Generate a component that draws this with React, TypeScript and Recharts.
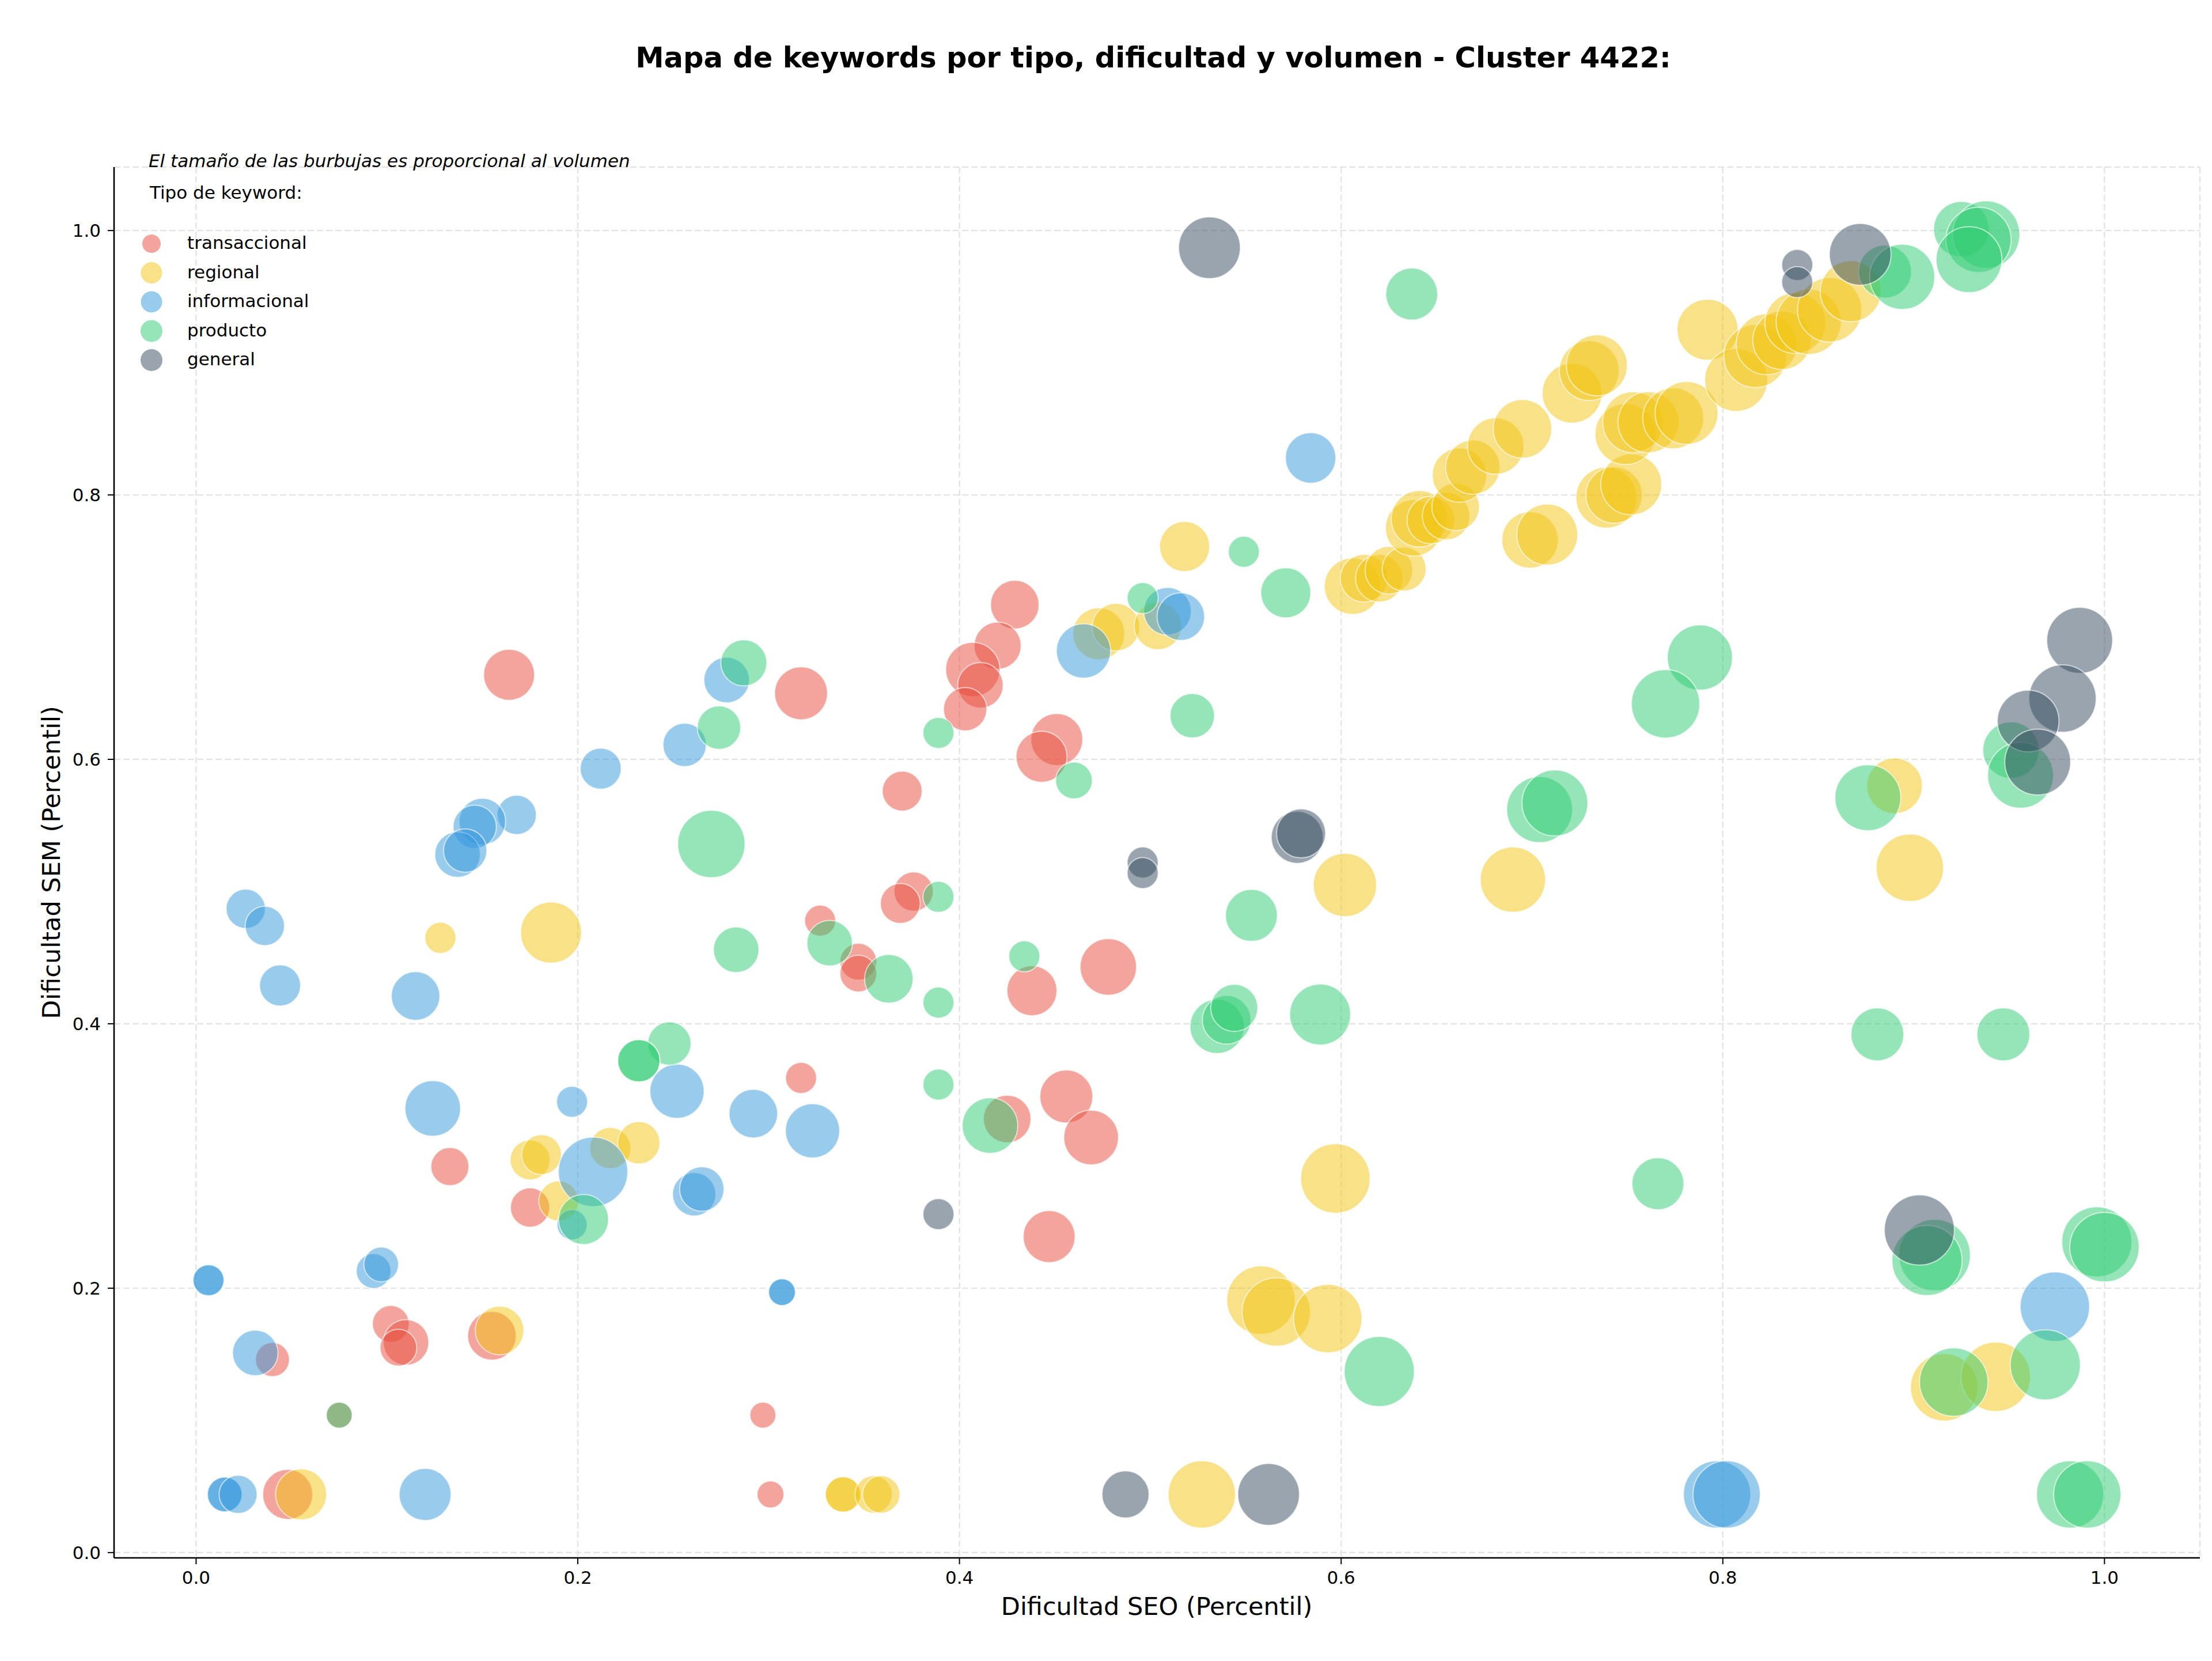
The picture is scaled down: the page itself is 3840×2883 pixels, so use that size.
import React from 'react';
import { ScatterChart, Scatter, XAxis, YAxis, ZAxis, CartesianGrid } from 'recharts';

// Keyword rows: [SEO difficulty percentile, SEM difficulty percentile, search volume index]
const transaccional: number[][] = [
  [0.164, 0.664, 54], [0.317, 0.650, 58], [0.429, 0.717, 49], [0.420, 0.686, 46],
  [0.407, 0.668, 61], [0.411, 0.656, 43], [0.403, 0.638, 39], [0.451, 0.615, 56],
  [0.443, 0.602, 54], [0.370, 0.576, 33], [0.376, 0.500, 32], [0.369, 0.491, 33],
  [0.327, 0.478, 20], [0.347, 0.447, 28], [0.347, 0.438, 28], [0.438, 0.425, 52],
  [0.478, 0.443, 66], [0.317, 0.359, 20], [0.133, 0.292, 30], [0.456, 0.345, 58],
  [0.469, 0.314, 62], [0.425, 0.328, 47], [0.175, 0.261, 32], [0.447, 0.239, 56],
  [0.102, 0.173, 28], [0.110, 0.159, 43], [0.106, 0.155, 28], [0.040, 0.146, 24],
  [0.155, 0.164, 49], [0.075, 0.104, 14], [0.297, 0.104, 14], [0.301, 0.044, 15],
  [0.048, 0.044, 52],
];

const regional: number[][] = [
  [0.128, 0.465, 20], [0.186, 0.469, 77], [0.175, 0.297, 33], [0.181, 0.301, 33],
  [0.217, 0.306, 35], [0.232, 0.310, 37], [0.190, 0.266, 33], [0.159, 0.168, 49],
  [0.055, 0.044, 54], [0.339, 0.044, 26], [0.339, 0.044, 26], [0.355, 0.044, 29],
  [0.359, 0.044, 29], [0.527, 0.044, 94], [0.597, 0.283, 100], [0.558, 0.191, 97],
  [0.566, 0.182, 97], [0.593, 0.177, 97], [0.602, 0.505, 83], [0.690, 0.509, 88],
  [0.898, 0.518, 94], [0.890, 0.580, 64], [0.916, 0.125, 94], [0.943, 0.133, 100],
  [0.518, 0.761, 52], [0.473, 0.695, 56], [0.482, 0.700, 47], [0.504, 0.701, 47],
  [0.606, 0.731, 66], [0.612, 0.737, 47], [0.620, 0.737, 47], [0.625, 0.743, 47],
  [0.633, 0.744, 40], [0.638, 0.775, 66], [0.641, 0.782, 66], [0.647, 0.781, 47],
  [0.655, 0.784, 47], [0.660, 0.791, 47], [0.662, 0.815, 61], [0.669, 0.821, 61],
  [0.681, 0.837, 66], [0.695, 0.850, 71], [0.699, 0.766, 66], [0.708, 0.770, 77],
  [0.721, 0.877, 74], [0.730, 0.894, 74], [0.734, 0.898, 77], [0.739, 0.798, 77],
  [0.743, 0.800, 66], [0.752, 0.808, 77], [0.749, 0.846, 77], [0.753, 0.855, 77],
  [0.761, 0.855, 77], [0.774, 0.858, 77], [0.781, 0.862, 82], [0.792, 0.925, 77],
  [0.807, 0.887, 82], [0.817, 0.905, 82], [0.823, 0.914, 77], [0.831, 0.917, 71],
  [0.838, 0.930, 77], [0.845, 0.931, 88], [0.856, 0.940, 86], [0.867, 0.954, 77],
];

const informacional: number[][] = [
  [0.278, 0.660, 43], [0.256, 0.611, 39], [0.212, 0.593, 35], [0.168, 0.558, 32],
  [0.150, 0.553, 45], [0.146, 0.549, 39], [0.137, 0.528, 43], [0.141, 0.531, 39],
  [0.026, 0.487, 32], [0.036, 0.474, 32], [0.044, 0.429, 35], [0.115, 0.421, 49],
  [0.252, 0.349, 61], [0.197, 0.341, 20], [0.124, 0.336, 64], [0.292, 0.332, 49],
  [0.323, 0.319, 61], [0.208, 0.288, 100], [0.197, 0.248, 19], [0.261, 0.271, 39],
  [0.265, 0.275, 41], [0.0065, 0.206, 20], [0.0065, 0.206, 20], [0.093, 0.213, 25],
  [0.097, 0.218, 25], [0.031, 0.151, 43], [0.307, 0.197, 15], [0.307, 0.197, 15],
  [0.015, 0.044, 25], [0.015, 0.044, 25], [0.022, 0.044, 30], [0.120, 0.044, 56],
  [0.465, 0.682, 61], [0.509, 0.712, 47], [0.516, 0.708, 47], [0.584, 0.828, 53],
  [0.974, 0.186, 100], [0.797, 0.044, 94], [0.802, 0.044, 94],
];

const producto: number[][] = [
  [0.287, 0.673, 44], [0.274, 0.624, 39], [0.270, 0.536, 94], [0.283, 0.456, 43],
  [0.248, 0.385, 39], [0.232, 0.372, 37], [0.232, 0.372, 37], [0.203, 0.252, 52],
  [0.075, 0.104, 14], [0.637, 0.952, 56], [0.549, 0.757, 20], [0.571, 0.726, 52],
  [0.496, 0.722, 20], [0.389, 0.620, 20], [0.460, 0.584, 28], [0.522, 0.633, 41],
  [0.389, 0.496, 20], [0.332, 0.461, 43], [0.363, 0.434, 49], [0.389, 0.416, 20],
  [0.434, 0.451, 20], [0.389, 0.354, 20], [0.416, 0.323, 64], [0.553, 0.482, 56],
  [0.535, 0.398, 61], [0.540, 0.403, 49], [0.544, 0.412, 46], [0.589, 0.407, 77],
  [0.620, 0.137, 102], [0.885, 0.969, 58], [0.894, 0.965, 88], [0.925, 1.001, 64],
  [0.938, 0.997, 94], [0.934, 0.993, 88], [0.929, 0.978, 90], [0.951, 0.607, 66],
  [0.956, 0.588, 90], [0.788, 0.677, 88], [0.770, 0.642, 97], [0.704, 0.562, 90],
  [0.712, 0.567, 90], [0.876, 0.571, 90], [0.881, 0.392, 58], [0.947, 0.392, 58],
  [0.766, 0.279, 56], [0.911, 0.225, 106], [0.907, 0.221, 102], [0.996, 0.235, 102],
  [1.000, 0.231, 100], [0.921, 0.129, 97], [0.969, 0.142, 102], [0.982, 0.044, 94],
  [0.991, 0.044, 94],
];

const general: number[][] = [
  [0.531, 0.987, 79], [0.577, 0.541, 56], [0.579, 0.544, 50], [0.496, 0.522, 20],
  [0.496, 0.514, 20], [0.389, 0.256, 20], [0.487, 0.044, 46], [0.562, 0.044, 79],
  [0.839, 0.974, 20], [0.839, 0.961, 20], [0.872, 0.982, 79], [0.987, 0.690, 90],
  [0.978, 0.646, 94], [0.960, 0.629, 79], [0.965, 0.598, 90], [0.903, 0.244, 102],
];

const tipos = ['transaccional', 'regional', 'informacional', 'producto', 'general'];
const colores = ['#E74C3C', '#F1C40F', '#3498DB', '#2ECC71', '#34495E'];
const series = [transaccional, regional, informacional, producto, general];

const axisTicks = [0, 0.2, 0.4, 0.6, 0.8, 1.0];

const toRows = (rows: number[][]) => rows.map(([seo, sem, vol]) => ({ seo, sem, vol }));

const FONT = 'DejaVu Sans';
const W = 3840;
const H = 2883;
// legend marker radii, one per keyword type
const legendR = [16, 18.5, 18.5, 19, 19];

export default function App() {
  const tickStyle = { fill: '#000', fontSize: 31, fontFamily: FONT };
  return (
    <div style={{ position: 'absolute', left: 0, top: 0, width: W, height: H, background: '#fff' }}>
      <ScatterChart
        width={W}
        height={H}
        margin={{ top: 290, right: 21, bottom: 59, left: 48 }}
      >
        <CartesianGrid stroke="#e4e4e4" strokeWidth={2.4} strokeDasharray="11 5" />
        <XAxis
          type="number"
          dataKey="seo"
          domain={[-0.043, 1.05]}
          ticks={axisTicks}
          interval={0}
          allowDataOverflow
          tickFormatter={(v: number) => v.toFixed(1)}
          height={120}
          axisLine={{ stroke: '#000', strokeWidth: 2.6 }}
          tickLine={{ stroke: '#000', strokeWidth: 2 }}
          tickSize={11}
          tickMargin={12}
          tick={tickStyle}
        />
        <YAxis
          type="number"
          dataKey="sem"
          domain={[-0.004, 1.048]}
          ticks={axisTicks}
          interval={0}
          allowDataOverflow
          tickFormatter={(v: number) => v.toFixed(1)}
          width={150}
          axisLine={{ stroke: '#000', strokeWidth: 2.6 }}
          tickLine={{ stroke: '#000', strokeWidth: 2 }}
          tickSize={11}
          tickMargin={12}
          tick={tickStyle}
        />
        <ZAxis type="number" dataKey="vol" domain={[0, 100]} range={[0, 12076]} />
        {series.map((rows, i) => (
          <Scatter
            key={tipos[i]}
            name={tipos[i]}
            data={toRows(rows)}
            fill={colores[i]}
            fillOpacity={0.5}
            stroke="#ffffff"
            strokeWidth={2}
            strokeOpacity={0.6}
            isAnimationActive={false}
          />
        ))}
      </ScatterChart>
      <svg
        width={W}
        height={H}
        style={{ position: 'absolute', left: 0, top: 0, pointerEvents: 'none' }}
        fontFamily={FONT}
      >
        <text x={2002} y={117} textAnchor="middle" fontSize={49.6} fontWeight="bold" fill="#000">
          Mapa de keywords por tipo, dificultad y volumen - Cluster 4422:
        </text>
        <text x={258} y={290} fontSize={31} fontStyle="italic" fill="#000">
          El tamaño de las burbujas es proporcional al volumen
        </text>
        <text x={260} y={345} fontSize={31} fill="#000">
          Tipo de keyword:
        </text>
        {tipos.map((t, i) => (
          <g key={t}>
            <circle cx={263} cy={423 + i * 50.5} r={legendR[i]} fill={colores[i]} fillOpacity={0.5} />
            <text x={325} y={432 + i * 50.5} fontSize={31} fill="#000">
              {t}
            </text>
          </g>
        ))}
        <text x={2008} y={2803} textAnchor="middle" fontSize={43} fill="#000">
          Dificultad SEO (Percentil)
        </text>
        <text
          transform="translate(104,1497) rotate(-90)"
          textAnchor="middle"
          fontSize={43}
          fill="#000"
        >
          Dificultad SEM (Percentil)
        </text>
      </svg>
    </div>
  );
}
